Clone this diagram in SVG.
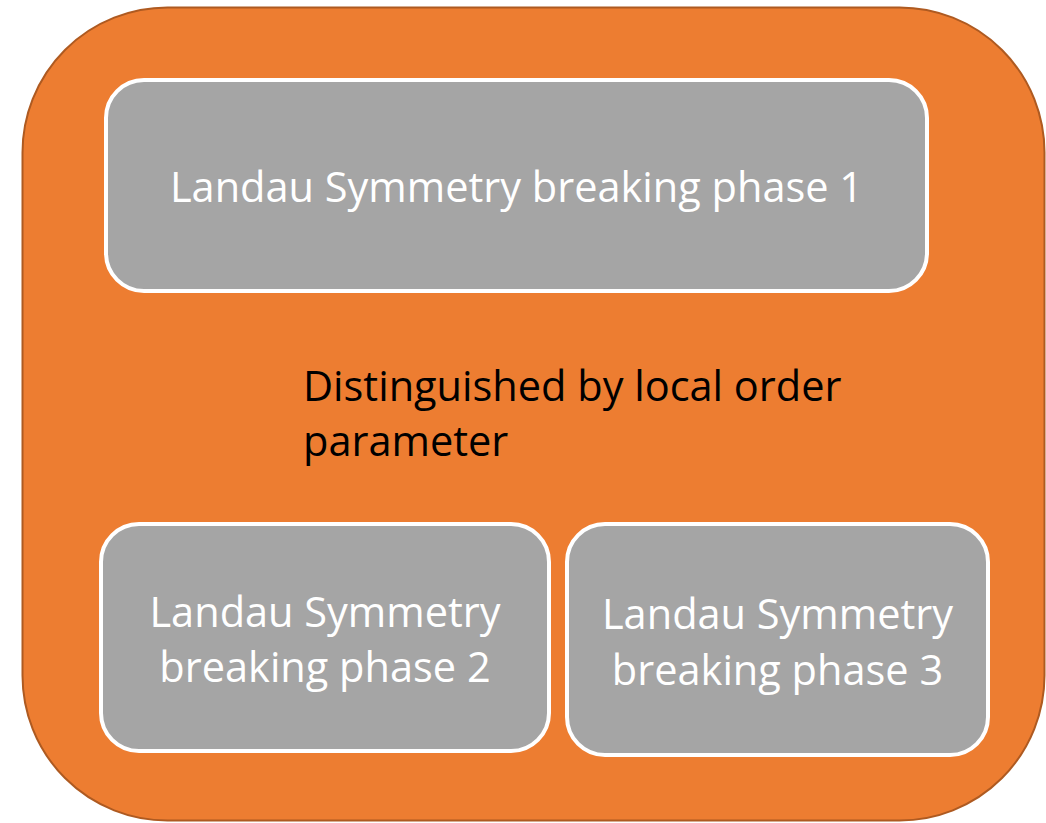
<svg xmlns="http://www.w3.org/2000/svg" width="1046" height="823" viewBox="0 0 1046 823">
<style>
.box{fill:#A5A5A5;stroke:#FFFFFF;stroke-width:4}
.wt{font-family:"Open Sans","Liberation Sans",sans-serif;font-size:41.5px;fill:#FFFFFF;text-anchor:middle}
.bt{font-family:"Open Sans","Liberation Sans",sans-serif;font-size:41.5px;fill:#000000}
</style>
<rect width="1046" height="823" fill="#FFFFFF"/>
<g id="outer">
<rect x="22.5" y="7.5" width="1022" height="813" rx="145" ry="145" fill="#ED7D31" stroke="#AE5A21" stroke-width="2"/>
</g>
<g id="phase1">
<rect class="box" x="106" y="80" width="821" height="211" rx="38"/>
<text class="wt" x="516.5" y="202">Landau Symmetry breaking phase 1</text>
</g>
<g id="label">
<text class="bt" x="303" y="401">Distinguished by local order</text>
<text class="bt" x="303" y="456">parameter</text>
</g>
<g id="phase2">
<rect class="box" x="101" y="524" width="448" height="227" rx="38"/>
<text class="wt" x="325" y="627">Landau Symmetry</text>
<text class="wt" x="325" y="682">breaking phase 2</text>
</g>
<g id="phase3">
<rect class="box" x="567" y="524" width="421" height="231" rx="38"/>
<text class="wt" x="777.5" y="629">Landau Symmetry</text>
<text class="wt" x="777.5" y="685">breaking phase 3</text>
</g>
<g id="connectors"/>
</svg>
